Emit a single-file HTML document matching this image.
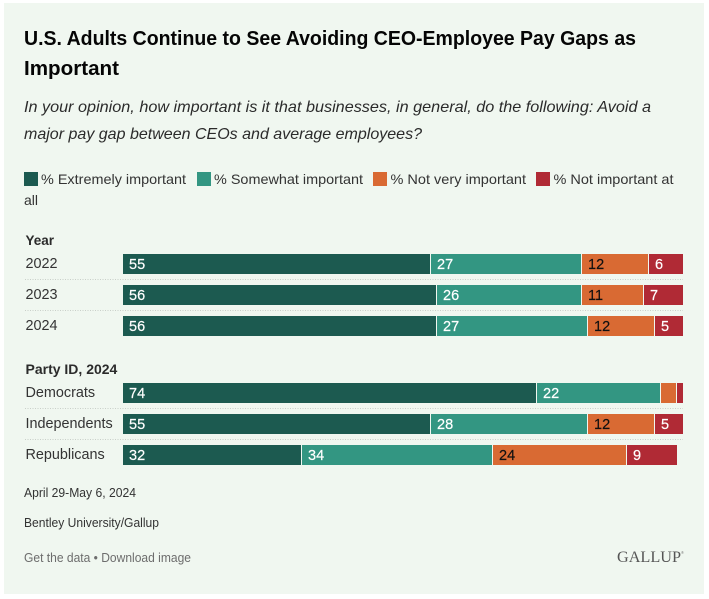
<!DOCTYPE html>
<html lang="en">
<head>
<meta charset="utf-8">
<title>U.S. Adults Continue to See Avoiding CEO-Employee Pay Gaps as Important</title>
<style>
html,body{margin:0;padding:0;background:#fff;width:709px;height:599px;overflow:hidden}
svg{display:block;font-family:"Liberation Sans",sans-serif}
.lnk{cursor:pointer}
</style>
</head>
<body>
<svg id="chart" width="709" height="599" viewBox="0 0 709 599" xmlns="http://www.w3.org/2000/svg">
  <rect x="4" y="3" width="700" height="591" fill="#f0f7f0"/>
  <text x="24" y="45" font-size="20" font-weight="700" fill="#050505" textLength="612" lengthAdjust="spacingAndGlyphs">U.S. Adults Continue to See Avoiding CEO-Employee Pay Gaps as</text>
  <text x="24" y="75" font-size="20" font-weight="700" fill="#050505" textLength="95" lengthAdjust="spacingAndGlyphs">Important</text>
  <text x="24" y="112" font-size="16" font-style="italic" fill="#2b2b2b" textLength="627" lengthAdjust="spacingAndGlyphs">In your opinion, how important is it that businesses, in general, do the following: Avoid a</text>
  <text x="24" y="139" font-size="16" font-style="italic" fill="#2b2b2b" textLength="398" lengthAdjust="spacingAndGlyphs">major pay gap between CEOs and average employees?</text>

  <g>
    <rect x="24" y="172" width="14" height="14" fill="#1c5a50"/>
    <text x="41" y="184" font-size="14" fill="#333" textLength="145" lengthAdjust="spacingAndGlyphs">% Extremely important</text>
    <rect x="197" y="172" width="14" height="14" fill="#339682"/>
    <text x="214" y="184" font-size="14" fill="#333" textLength="149" lengthAdjust="spacingAndGlyphs">% Somewhat important</text>
    <rect x="373" y="172" width="14" height="14" fill="#d96a33"/>
    <text x="390.5" y="184" font-size="14" fill="#333" textLength="135.5" lengthAdjust="spacingAndGlyphs">% Not very important</text>
    <rect x="536" y="172" width="14" height="14" fill="#b02a35"/>
    <text x="553.5" y="184" font-size="14" fill="#333" textLength="120" lengthAdjust="spacingAndGlyphs">% Not important at</text>
    <text x="24" y="205" font-size="14" fill="#333">all</text>
  </g>

  <g id="plot"></g>

  <text x="24" y="497" font-size="12.5" fill="#333" textLength="112" lengthAdjust="spacingAndGlyphs">April 29-May 6, 2024</text>
  <text x="24" y="527" font-size="12.5" fill="#333" textLength="135" lengthAdjust="spacingAndGlyphs">Bentley University/Gallup</text>
  <text x="24" y="562" font-size="12.5" fill="#6d6d6d" textLength="167" lengthAdjust="spacingAndGlyphs"><tspan class="lnk">Get the data</tspan> • <tspan class="lnk">Download image</tspan></text>
  <text x="617" y="562" font-family="'Liberation Serif',serif" font-size="16" fill="#555" textLength="64" lengthAdjust="spacingAndGlyphs">GALLUP</text>
  <text x="681" y="554" font-size="4" fill="#777">®</text>
</svg>
<script>
var groupHeaders = ['Year', 'Party ID, 2024'];
var categories = ['2022', '2023', '2024', 'Democrats', 'Independents', 'Republicans'];
var categoryGroups = [0, 0, 0, 1, 1, 1];
var extremelyImportant = [55, 56, 56, 74, 55, 32];
var somewhatImportant = [27, 26, 27, 22, 28, 34];
var notVeryImportant = [12, 11, 12, 3, 12, 24];
var notImportantAtAll = [6, 7, 5, 1, 5, 9];

var svgNS = 'http://www.w3.org/2000/svg';
var plot = document.getElementById('plot');
var seriesList = [extremelyImportant, somewhatImportant, notVeryImportant, notImportantAtAll];
var seriesKeys = ['extremely-important', 'somewhat-important', 'not-very-important', 'not-important-at-all'];
var seriesColors = ['#1c5a50', '#339682', '#d96a33', '#b02a35'];
var seriesTextColors = ['#fff', '#fff', '#111', '#fff'];

function xScale(v) { return Math.round(123 + v * 5.6); }
function rowTop(i) {
  var group = categoryGroups[i];
  var first = categoryGroups.indexOf(group);
  return (group === 0 ? 254 : 383) + (i - first) * 31;
}
function add(tag, attrs, parent) {
  var el = document.createElementNS(svgNS, tag);
  for (var k in attrs) el.setAttribute(k, attrs[k]);
  (parent || plot).appendChild(el);
  return el;
}
function slug(s) { return s.toLowerCase().replace(/[^a-z0-9]+/g, '-').replace(/-$/, ''); }

groupHeaders.forEach(function (h, g) {
  var t = add('text', { x: 25.5, y: g === 0 ? 245 : 374, 'font-size': g === 0 ? 13.5 : 14, 'font-weight': 700, fill: '#2b2b2b' });
  
  
  t.textContent = h;
});

categories.forEach(function (cat, i) {
  var top = rowTop(i);
  var label = add('text', { x: 25.5, y: top + 14, 'font-size': 14.4, fill: '#333' });
  
  
  label.textContent = cat;

  if (i + 1 < categories.length && categoryGroups[i + 1] === categoryGroups[i]) {
    var rule = add('line', { x1: 25, x2: 683, y1: top + 25.5, y2: top + 25.5, stroke: '#c9cfc9', 'stroke-width': 1, 'stroke-dasharray': '1 1.5' });
    
    
  }

  var cum = 0;
  seriesList.forEach(function (series, s) {
    var v = series[i];
    var x0 = xScale(cum);
    var x1 = xScale(cum + v);
    var hasNext = s < seriesList.length - 1;
    var bar = add('rect', { x: x0, y: top, width: Math.max(0, x1 - x0 - (hasNext ? 1 : 0)), height: 20, fill: seriesColors[s], 'shape-rendering': 'crispEdges' });
    
    
    if (v >= 4) {
      var val = add('text', { x: x0 + 6, y: top + 15, 'font-size': 14.5, fill: seriesTextColors[s], stroke: seriesTextColors[s], 'stroke-width': 0.2 });
      
      
      val.textContent = v;
    }
    cum += v;
  });
});
</script>
</body>
</html>
